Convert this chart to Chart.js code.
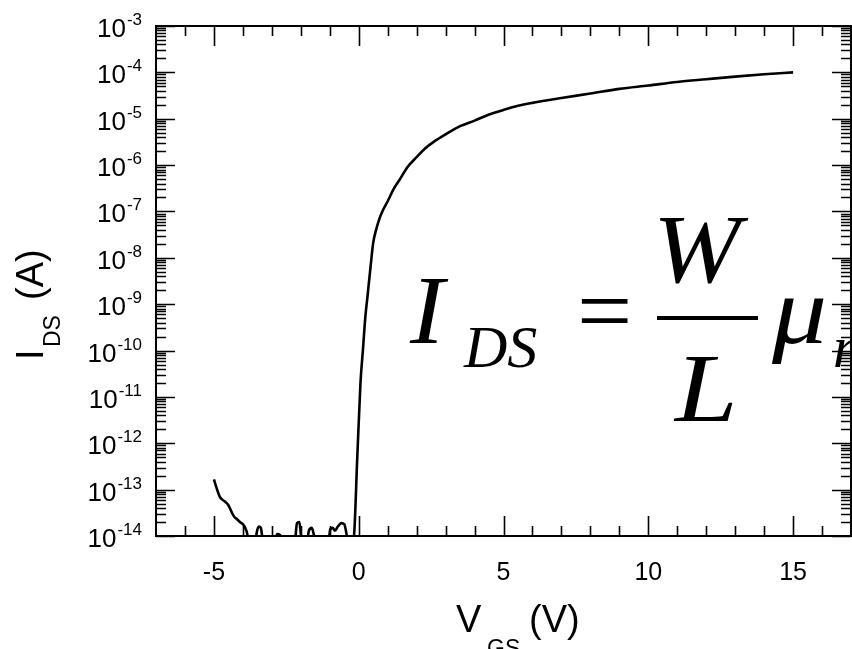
<!DOCTYPE html>
<html>
<head>
<meta charset="utf-8">
<script src="https://cdn.jsdelivr.net/npm/chart.js@4"></script>
<style>
  body { margin: 0; background: #fff; }
  canvas { display: block; }
</style>
</head>
<body>
<canvas id="ids" width="852" height="649"></canvas>
<script>
// gate voltage (V) and drain current (A)
var vgs = [-5.0, -4.9, -4.8, -4.7, -4.6, -4.5, -4.4, -4.3, -4.2, -4.1, -4.0, -3.9,
  -3.85, -3.8, -3.6, -3.52, -3.45, -3.38, -3.3, -3.1,
  -2.9, -2.82, -2.72, -2.6, -2.4, -2.2, -2.13, -2.05, -1.98,
  -1.8, -1.72, -1.62, -1.52, -1.3, -1.05, -0.98, -0.9, -0.82, -0.72,
  -0.6, -0.5, -0.42, -0.35, -0.25, -0.17, -0.05,
  0.06, 0.15, 0.23, 0.3, 0.41, 0.5, 0.6, 0.7, 0.8,
  1.0, 1.2, 1.4, 1.7, 2.0, 2.3, 2.6, 3.0, 3.5, 4.0, 4.5,
  5.0, 5.5, 6.0, 7.0, 8.0, 9.0, 10.0, 11.0, 12.0, 13.0, 14.0, 15.0];
var ids = [1.66e-13, 1.05e-13, 7.1e-14, 6.0e-14, 5.4e-14, 4.6e-14, 3.4e-14, 2.6e-14, 2.3e-14, 2.0e-14, 1.8e-14, 1.4e-14,
  1.1e-14, 6e-15, 5e-15, 1.2e-14, 1.6e-14, 1.5e-14, 7e-15, 5e-15,
  7e-15, 1.1e-14, 1.05e-14, 7e-15, 5e-15, 8e-15, 1.9e-14, 2.0e-14, 9e-15,
  7e-15, 1.3e-14, 1.5e-14, 9e-15, 5e-15, 7e-15, 1.4e-14, 1.5e-14, 1.3e-14, 1.6e-14,
  1.9e-14, 1.8e-14, 1.1e-14, 6e-15, 7e-15, 9e-15, 4.9e-13,
  1.95e-11, 1.12e-10, 5.4e-10, 1.41e-9, 6.5e-9, 2.1e-8, 4.0e-8, 6.5e-8, 9.5e-8,
  1.66e-7, 3.0e-7, 4.7e-7, 9.3e-7, 1.48e-6, 2.3e-6, 3.2e-6, 4.6e-6, 6.9e-6, 9.1e-6, 1.23e-5,
  1.55e-5, 1.9e-5, 2.2e-5, 2.8e-5, 3.5e-5, 4.4e-5, 5.2e-5, 6.2e-5, 7.1e-5, 8.1e-5, 9.1e-5, 1.0e-4];

// axes
var xMin = -7, xMax = 17;
var xMajor = [-5, 0, 5, 10, 15];
var xLabels = ['-5', '0', '5', '10', '15'];
var yExp = [-14, -13, -12, -11, -10, -9, -8, -7, -6, -5, -4, -3];
var yLabels = ['-14', '-13', '-12', '-11', '-10', '-9', '-8', '-7', '-6', '-5', '-4', '-3'];

var points = vgs.map(function (v, i) { return { x: v, y: ids[i] }; });

var SANS = '"Liberation Sans", Arial, sans-serif';
var SERIF = '"Liberation Serif", "Times New Roman", serif';

// text a bit wider than the font, like the pasted equation
function wide(ctx, txt, x, y, k) {
  ctx.save();
  ctx.translate(x, y);
  ctx.scale(k, 1);
  ctx.fillText(txt, 0, 0);
  ctx.restore();
}

// frame with inward ticks, labels, titles and the equation
var decor = {
  id: 'decor',
  afterDraw: function (chart) {
    var ctx = chart.ctx, a = chart.chartArea;
    var xs = chart.scales.x, ys = chart.scales.y;
    ctx.save();
    ctx.strokeStyle = '#000';
    ctx.fillStyle = '#000';

    ctx.lineWidth = 2;
    ctx.strokeRect(a.left, a.top, a.right - a.left, a.bottom - a.top);

    // x ticks, bottom and top
    ctx.lineWidth = 1.6;
    ctx.beginPath();
    for (var v = xMin + 1; v < xMax; v++) {
      var px = Math.round(xs.getPixelForValue(v)) + 0.5;
      var len = xMajor.indexOf(v) >= 0 ? 20 : 10;
      ctx.moveTo(px, a.bottom); ctx.lineTo(px, a.bottom - len);
      ctx.moveTo(px, a.top); ctx.lineTo(px, a.top + len);
    }
    // y ticks, left and right
    yExp.forEach(function (e) {
      for (var m = 1; m <= 9; m++) {
        if (e === -3 && m > 1) break;
        var py = Math.round(ys.getPixelForValue(m * Math.pow(10, e))) + 0.5;
        var l = m === 1 ? 19 : 10;
        ctx.moveTo(a.left, py); ctx.lineTo(a.left + l, py);
        ctx.moveTo(a.right, py); ctx.lineTo(a.right - l, py);
      }
    });
    ctx.stroke();

    // x tick labels
    ctx.font = '25px ' + SANS;
    ctx.textAlign = 'center';
    ctx.textBaseline = 'alphabetic';
    xMajor.forEach(function (v, i) {
      ctx.fillText(xLabels[i], xs.getPixelForValue(v), 580);
    });

    // y tick labels 10^n
    ctx.textAlign = 'right';
    yExp.forEach(function (e, i) {
      var py = ys.getPixelForValue(Math.pow(10, e));
      ctx.font = '17px ' + SANS;
      var w = ctx.measureText(yLabels[i]).width;
      ctx.fillText(yLabels[i], 142, py - 1);
      ctx.font = '26px ' + SANS;
      ctx.fillText('10', 142 - w - 1, py + 11);
    });

    // x title
    ctx.textAlign = 'left';
    ctx.font = '38px ' + SANS;
    ctx.fillText('V', 456, 632);
    ctx.font = '23px ' + SANS;
    ctx.fillText('GS', 487, 656);
    ctx.font = '38px ' + SANS;
    ctx.fillText('(V)', 529, 632);

    // y title
    ctx.save();
    ctx.translate(43, 360);
    ctx.rotate(-Math.PI / 2);
    ctx.font = '38px ' + SANS;
    ctx.fillText('I', 0, 0);
    ctx.font = '23px ' + SANS;
    ctx.fillText('DS', 13, 17);
    ctx.font = '38px ' + SANS;
    ctx.fillText('(A)', 60, 0);
    ctx.restore();

    // equation
    ctx.font = 'italic 98px ' + SERIF;
    wide(ctx, 'I', 410, 343, 1.05);
    ctx.font = 'italic 60px ' + SERIF;
    wide(ctx, 'DS', 464, 367, 1.0);
    ctx.font = '98px ' + SERIF;
    ctx.fillText('=', 577, 343);
    ctx.fillRect(657, 316, 101, 4);
    ctx.font = 'italic 98px ' + SERIF;
    wide(ctx, 'W', 653, 282, 1.07);
    wide(ctx, 'L', 675, 421, 1.15);
    wide(ctx, '\u03bc', 772, 343, 1.12);
    ctx.font = 'italic 60px ' + SERIF;
    ctx.fillText('n', 833, 367);
    ctx.restore();
  }
};

var chart = new Chart(document.getElementById('ids').getContext('2d'), {
  type: 'line',
  data: {
    datasets: [{
      data: points,
      borderColor: '#000',
      borderWidth: 2.6,
      pointRadius: 0,
      fill: false,
      cubicInterpolationMode: 'monotone'
    }]
  },
  options: {
    responsive: false,
    animation: false,
    devicePixelRatio: 1,
    layout: { padding: { left: 156, right: 1, top: 26, bottom: 113 } },
    plugins: { legend: { display: false }, tooltip: { enabled: false } },
    scales: {
      x: { type: 'linear', min: xMin, max: xMax, display: false },
      y: { type: 'logarithmic', min: 1e-14, max: 1e-3, display: false }
    }
  },
  plugins: [decor]
});
</script>
</body>
</html>
